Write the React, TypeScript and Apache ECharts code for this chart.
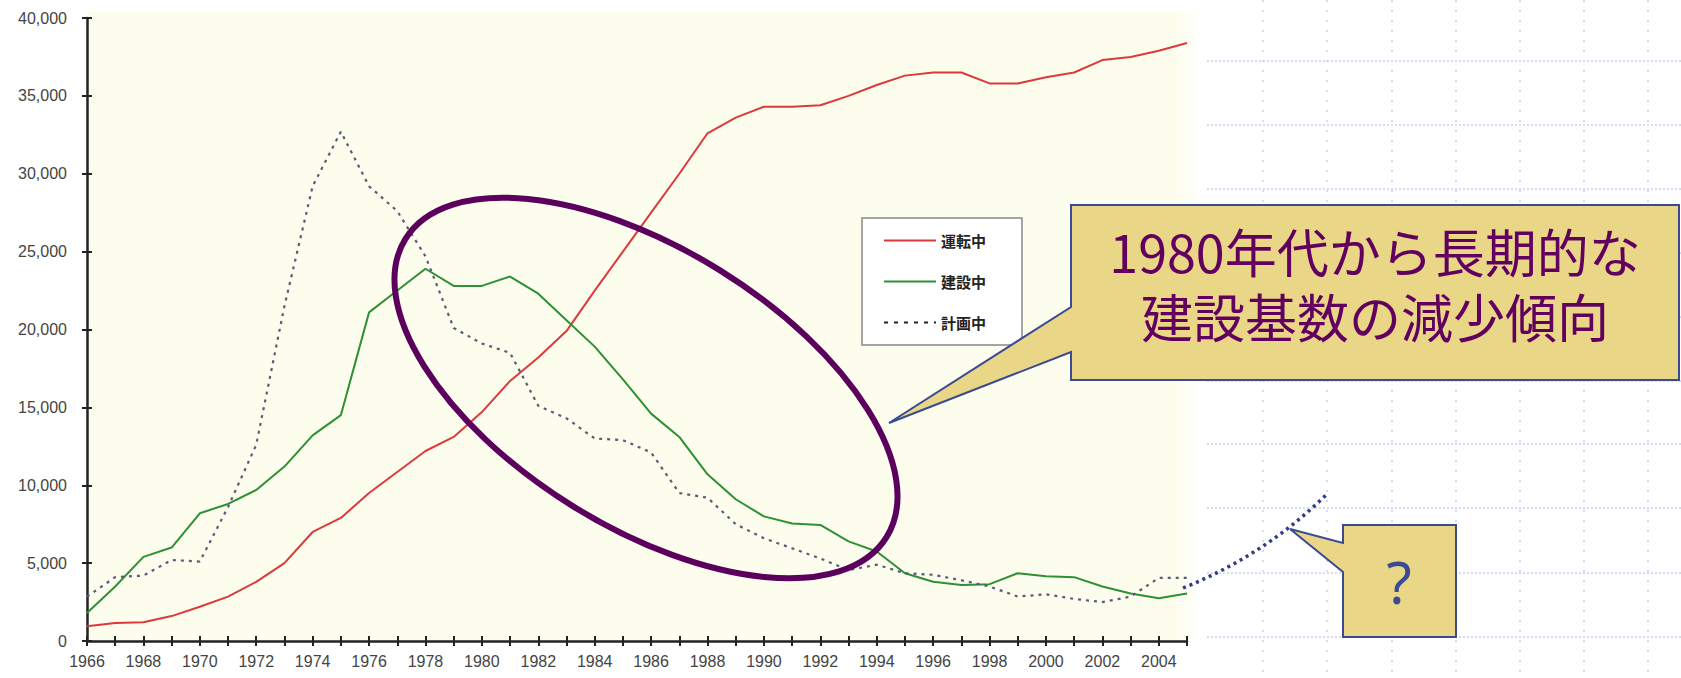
import React, { useEffect, useRef } from "react";
import * as echarts from "echarts";

const years = [
  "1966", "1967", "1968", "1969", "1970", "1971", "1972", "1973", "1974", "1975",
  "1976", "1977", "1978", "1979", "1980", "1981", "1982", "1983", "1984", "1985",
  "1986", "1987", "1988", "1989", "1990", "1991", "1992", "1993", "1994", "1995",
  "1996", "1997", "1998", "1999", "2000", "2001", "2002", "2003", "2004", "2005",
];

const seriesNames = ["運転中", "建設中", "計画中"];

// 運転中 (in operation)
const operating = [
  950, 1150, 1200, 1600, 2200, 2850, 3800, 5000, 7000, 7900,
  9500, 10850, 12200, 13100, 14700, 16700, 18200, 19900, 22500, 25000,
  27500, 30000, 32600, 33600, 34300, 34300, 34400, 35000, 35700, 36300,
  36500, 36500, 35800, 35800, 36200, 36500, 37300, 37500, 37900, 38400,
];

// 建設中 (under construction)
const construction = [
  1800, 3500, 5400, 6000, 8200, 8800, 9700, 11200, 13200, 14500,
  21100, 22500, 23900, 22800, 22800, 23400, 22300, 20600, 18900, 16800,
  14600, 13100, 10700, 9100, 8000, 7550, 7450, 6400, 5750, 4350,
  3800, 3600, 3650, 4350, 4150, 4100, 3500, 3050, 2750, 3050,
];

// 計画中 (planned)
const planned = [
  2850, 4100, 4200, 5200, 5100, 8600, 12600, 21500, 29200, 32700,
  29200, 27600, 24700, 20100, 19100, 18500, 15100, 14300, 13000, 12900,
  12100, 9500, 9200, 7500, 6600, 5950, 5300, 4550, 4900, 4350,
  4250, 3900, 3500, 2850, 3000, 2700, 2500, 2850, 4050, 4050,
];

const yTicks = { min: 0, max: 40000, interval: 5000 };

const calloutLines = ["1980年代から長期的な", "建設基数の減少傾向"];
const questionText = "?";

export default function App() {
  const ref = useRef<HTMLDivElement>(null);

  useEffect(() => {
    if (!ref.current) return;
    const chart = echarts.init(ref.current, undefined, { renderer: "svg" });

    const axisColor = "#222";
    const labelStyle = { fontSize: 16, color: "#444", fontFamily: "Liberation Sans, Arial, sans-serif" };

    const gridColor = "#c4d2f2";
    const gridEls: any[] = [];
    const hYs = [61, 125, 189, 253, 317, 381, 444, 508, 573, 637];
    const vXs = [1263, 1327, 1392, 1456, 1520, 1584, 1648];
    hYs.forEach((y) =>
      gridEls.push({
        type: "line",
        z: 1,
        shape: { x1: 1207, y1: y, x2: 1681, y2: y },
        style: { stroke: gridColor, lineWidth: 1.5, lineDash: [2, 2] },
        silent: true,
      })
    );
    vXs.forEach((x) =>
      gridEls.push({
        type: "line",
        z: 1,
        shape: { x1: x, y1: 0, x2: x, y2: 678 },
        style: { stroke: gridColor, lineWidth: 1.5, lineDash: [2, 8] },
        silent: true,
      })
    );

    const hiddenSymbol = { opacity: 0, borderWidth: 0 };

    const option: any = {
      animation: false,
      backgroundColor: "#ffffff",
      grid: { left: 87, top: 18, right: 494, bottom: 37, containLabel: false },
      legend: {
        orient: "vertical",
        left: 862,
        top: 218,
        padding: [15, 36, 15, 21],
        itemGap: 26,
        itemWidth: 52,
        itemHeight: 14,
        backgroundColor: "#ffffff",
        borderColor: "#888",
        borderWidth: 1.5,
        borderRadius: 0,
        itemStyle: hiddenSymbol,
        textStyle: {
          fontSize: 15,
          lineHeight: 14,
          fontWeight: "bold",
          color: "#222",
          fontFamily: "Noto Sans CJK JP",
        },
        data: [
          { name: seriesNames[0], itemStyle: hiddenSymbol },
          { name: seriesNames[1], itemStyle: hiddenSymbol },
          {
            name: seriesNames[2],
            itemStyle: hiddenSymbol,
            lineStyle: { color: "#222", type: [4, 6], width: 2 },
          },
        ],
      },
      xAxis: [
        {
          type: "category",
          data: years,
          boundaryGap: false,
          axisLine: { lineStyle: { color: axisColor, width: 2.5 } },
          axisTick: { show: true, interval: 0, length: 5, lineStyle: { color: axisColor, width: 2 } },
          axisLabel: { ...labelStyle, interval: 1, margin: 12 },
          splitLine: { show: false },
        },
        {
          type: "category",
          data: years,
          boundaryGap: false,
          position: "bottom",
          axisLine: { show: false },
          axisTick: { show: true, inside: true, interval: 0, length: 5, lineStyle: { color: axisColor, width: 2 } },
          axisLabel: { show: false },
          splitLine: { show: false },
        },
      ],
      yAxis: [
        {
          type: "value",
          min: yTicks.min,
          max: yTicks.max,
          interval: yTicks.interval,
          axisLine: { show: true, lineStyle: { color: axisColor, width: 2.5 } },
          axisTick: { show: true, length: 5, lineStyle: { color: axisColor, width: 2 } },
          axisLabel: {
            ...labelStyle,
            margin: 20,
            formatter: (v: number) => v.toLocaleString("en-US"),
          },
          splitLine: { show: false },
        },
        {
          type: "value",
          min: yTicks.min,
          max: yTicks.max,
          interval: yTicks.interval,
          position: "left",
          axisLine: { show: false },
          axisTick: { show: true, inside: true, length: 5, lineStyle: { color: axisColor, width: 2 } },
          axisLabel: { show: false },
          splitLine: { show: false },
        },
      ],
      series: [
        {
          name: seriesNames[0],
          type: "line",
          data: operating,
          symbol: "none",
          lineStyle: { color: "#dc3a3a", width: 2 },
          itemStyle: { color: "#dc3a3a" },
          z: 3,
        },
        {
          name: seriesNames[1],
          type: "line",
          data: construction,
          symbol: "none",
          lineStyle: { color: "#2f8f34", width: 2 },
          itemStyle: { color: "#2f8f34" },
          z: 3,
        },
        {
          name: seriesNames[2],
          type: "line",
          data: planned,
          symbol: "none",
          lineStyle: { color: "#5a5a7a", width: 2.2, type: [3, 5] },
          itemStyle: { color: "#5a5a7a" },
          z: 3,
        },
      ],
      graphic: [
        {
          type: "rect",
          z: -1,
          silent: true,
          shape: { x: 88, y: 12, width: 1114, height: 629 },
          style: {
            fill: new echarts.graphic.LinearGradient(0, 0, 1, 0, [
              { offset: 0, color: "#fdfdee" },
              { offset: 0.975, color: "#fdfdee" },
              { offset: 1, color: "#ffffff" },
            ]),
          },
        },
        ...gridEls,
        {
          type: "ellipse",
          z: 100,
          silent: true,
          x: 646,
          y: 388,
          rotation: -0.555,
          shape: { cx: 0, cy: 0, rx: 283, ry: 139 },
          style: { fill: "none", stroke: "#5c005e", lineWidth: 6 },
        },
        {
          type: "polygon",
          z: 110,
          silent: true,
          shape: {
            points: [
              [1071, 205], [1679, 205], [1679, 380], [1071, 380],
              [1071, 352], [889, 423], [1071, 307],
            ],
          },
          style: { fill: "#e9d686", stroke: "#3b4a94", lineWidth: 2 },
        },
        {
          type: "text",
          z: 111,
          silent: true,
          x: 1375,
          y: 283,
          style: {
            text: calloutLines.join("\n"),
            fontSize: 52,
            lineHeight: 65,
            fontFamily: "Noto Sans CJK JP",
            fontWeight: "normal",
            fill: "#620060",
            align: "center",
            verticalAlign: "middle",
          },
        },
        {
          type: "bezierCurve",
          z: 105,
          silent: true,
          shape: { x1: 1183, y1: 588, x2: 1326, y2: 495, cpx1: 1265, cpy1: 555 },
          style: { stroke: "#2e3a8a", lineWidth: 3.5, lineDash: [3, 4], fill: "none" },
        },
        {
          type: "polygon",
          z: 110,
          silent: true,
          shape: {
            points: [
              [1343, 525], [1456, 525], [1456, 637], [1343, 637],
              [1343, 572], [1290, 529], [1343, 543],
            ],
          },
          style: { fill: "#e9d686", stroke: "#3b4a94", lineWidth: 2 },
        },
        {
          type: "text",
          z: 111,
          silent: true,
          x: 1399,
          y: 581,
          style: {
            text: questionText,
            fontSize: 58,
            fontFamily: "Noto Sans, DejaVu Sans, sans-serif",
            fontWeight: "normal",
            fill: "#3b4a94",
            align: "center",
            verticalAlign: "middle",
          },
        },
      ],
    };

    chart.setOption(option);
    return () => chart.dispose();
  }, []);

  return (
    <div
      ref={ref}
      style={{ position: "absolute", left: 0, top: 0, width: 1681, height: 678 }}
    />
  );
}
